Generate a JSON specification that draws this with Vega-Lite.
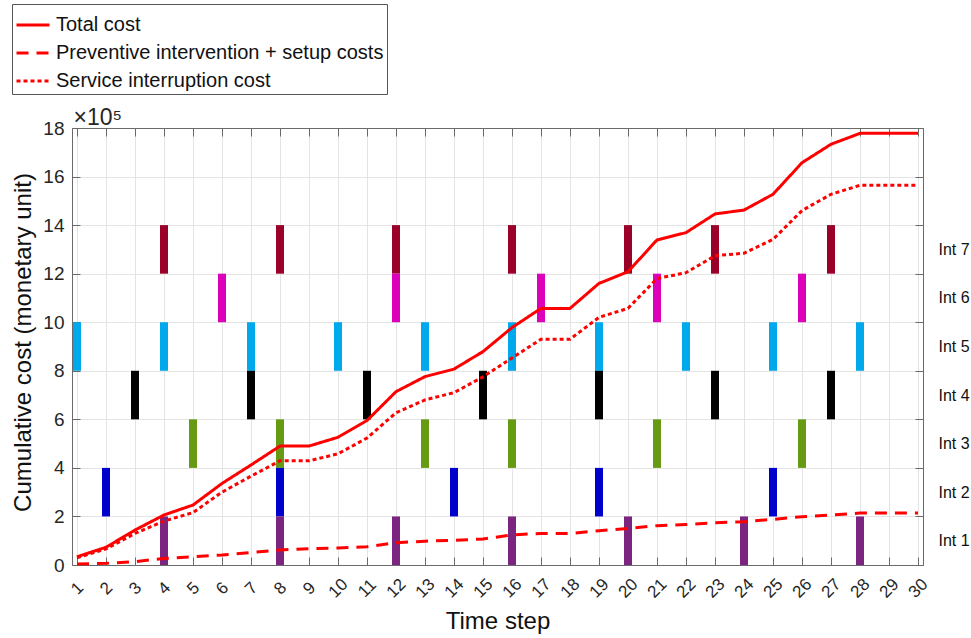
{
  "$schema": "https://vega.github.io/schema/vega-lite/v6.json",
  "width": 851,
  "height": 437,
  "autosize": {"type": "none"},
  "padding": {"left": 72, "top": 128, "right": 48, "bottom": 73},
  "background": "white",
  "config": {
    "font": "Liberation Sans",
    "view": {"stroke": "#6a6a6a"},
    "axis": {
      "domainColor": "#6a6a6a",
      "tickColor": "#6a6a6a",
      "labelColor": "#262626",
      "titleColor": "#111111",
      "titleFontWeight": "normal",
      "gridColor": "#e4e4e4",
      "gridWidth": 1
    }
  },
  "datasets": {
    "ints": [
      {"step": 4, "intervention": "Int 7", "low": 1200000, "high": 1400000},
      {"step": 8, "intervention": "Int 7", "low": 1200000, "high": 1400000},
      {"step": 12, "intervention": "Int 7", "low": 1200000, "high": 1400000},
      {"step": 16, "intervention": "Int 7", "low": 1200000, "high": 1400000},
      {"step": 20, "intervention": "Int 7", "low": 1200000, "high": 1400000},
      {"step": 23, "intervention": "Int 7", "low": 1200000, "high": 1400000},
      {"step": 27, "intervention": "Int 7", "low": 1200000, "high": 1400000},
      {"step": 6, "intervention": "Int 6", "low": 1000000, "high": 1200000},
      {"step": 12, "intervention": "Int 6", "low": 1000000, "high": 1200000},
      {"step": 17, "intervention": "Int 6", "low": 1000000, "high": 1200000},
      {"step": 21, "intervention": "Int 6", "low": 1000000, "high": 1200000},
      {"step": 26, "intervention": "Int 6", "low": 1000000, "high": 1200000},
      {"step": 1, "intervention": "Int 5", "low": 800000, "high": 1000000},
      {"step": 4, "intervention": "Int 5", "low": 800000, "high": 1000000},
      {"step": 7, "intervention": "Int 5", "low": 800000, "high": 1000000},
      {"step": 10, "intervention": "Int 5", "low": 800000, "high": 1000000},
      {"step": 13, "intervention": "Int 5", "low": 800000, "high": 1000000},
      {"step": 16, "intervention": "Int 5", "low": 800000, "high": 1000000},
      {"step": 19, "intervention": "Int 5", "low": 800000, "high": 1000000},
      {"step": 22, "intervention": "Int 5", "low": 800000, "high": 1000000},
      {"step": 25, "intervention": "Int 5", "low": 800000, "high": 1000000},
      {"step": 28, "intervention": "Int 5", "low": 800000, "high": 1000000},
      {"step": 3, "intervention": "Int 4", "low": 600000, "high": 800000},
      {"step": 7, "intervention": "Int 4", "low": 600000, "high": 800000},
      {"step": 11, "intervention": "Int 4", "low": 600000, "high": 800000},
      {"step": 15, "intervention": "Int 4", "low": 600000, "high": 800000},
      {"step": 19, "intervention": "Int 4", "low": 600000, "high": 800000},
      {"step": 23, "intervention": "Int 4", "low": 600000, "high": 800000},
      {"step": 27, "intervention": "Int 4", "low": 600000, "high": 800000},
      {"step": 5, "intervention": "Int 3", "low": 400000, "high": 600000},
      {"step": 8, "intervention": "Int 3", "low": 400000, "high": 600000},
      {"step": 13, "intervention": "Int 3", "low": 400000, "high": 600000},
      {"step": 16, "intervention": "Int 3", "low": 400000, "high": 600000},
      {"step": 21, "intervention": "Int 3", "low": 400000, "high": 600000},
      {"step": 26, "intervention": "Int 3", "low": 400000, "high": 600000},
      {"step": 2, "intervention": "Int 2", "low": 200000, "high": 400000},
      {"step": 8, "intervention": "Int 2", "low": 200000, "high": 400000},
      {"step": 14, "intervention": "Int 2", "low": 200000, "high": 400000},
      {"step": 19, "intervention": "Int 2", "low": 200000, "high": 400000},
      {"step": 25, "intervention": "Int 2", "low": 200000, "high": 400000},
      {"step": 4, "intervention": "Int 1", "low": 0, "high": 200000},
      {"step": 8, "intervention": "Int 1", "low": 0, "high": 200000},
      {"step": 12, "intervention": "Int 1", "low": 0, "high": 200000},
      {"step": 16, "intervention": "Int 1", "low": 0, "high": 200000},
      {"step": 20, "intervention": "Int 1", "low": 0, "high": 200000},
      {"step": 24, "intervention": "Int 1", "low": 0, "high": 200000},
      {"step": 28, "intervention": "Int 1", "low": 0, "high": 200000}
    ],
    "costs": [
      {"step": 1, "series": "Total cost", "value": 34000},
      {"step": 2, "series": "Total cost", "value": 73000},
      {"step": 3, "series": "Total cost", "value": 144000},
      {"step": 4, "series": "Total cost", "value": 206000},
      {"step": 5, "series": "Total cost", "value": 247000},
      {"step": 6, "series": "Total cost", "value": 336000},
      {"step": 7, "series": "Total cost", "value": 412000},
      {"step": 8, "series": "Total cost", "value": 490000},
      {"step": 9, "series": "Total cost", "value": 490000},
      {"step": 10, "series": "Total cost", "value": 526000},
      {"step": 11, "series": "Total cost", "value": 595000},
      {"step": 12, "series": "Total cost", "value": 714000},
      {"step": 13, "series": "Total cost", "value": 776000},
      {"step": 14, "series": "Total cost", "value": 807000},
      {"step": 15, "series": "Total cost", "value": 879000},
      {"step": 16, "series": "Total cost", "value": 978000},
      {"step": 17, "series": "Total cost", "value": 1057000},
      {"step": 18, "series": "Total cost", "value": 1057000},
      {"step": 19, "series": "Total cost", "value": 1160000},
      {"step": 20, "series": "Total cost", "value": 1208000},
      {"step": 21, "series": "Total cost", "value": 1339000},
      {"step": 22, "series": "Total cost", "value": 1369000},
      {"step": 23, "series": "Total cost", "value": 1446000},
      {"step": 24, "series": "Total cost", "value": 1462000},
      {"step": 25, "series": "Total cost", "value": 1527000},
      {"step": 26, "series": "Total cost", "value": 1657000},
      {"step": 27, "series": "Total cost", "value": 1733000},
      {"step": 28, "series": "Total cost", "value": 1778000},
      {"step": 29, "series": "Total cost", "value": 1778000},
      {"step": 30, "series": "Total cost", "value": 1778000},
      {"step": 1, "series": "Preventive intervention + setup costs", "value": 4000},
      {"step": 2, "series": "Preventive intervention + setup costs", "value": 7000},
      {"step": 3, "series": "Preventive intervention + setup costs", "value": 14000},
      {"step": 4, "series": "Preventive intervention + setup costs", "value": 27000},
      {"step": 5, "series": "Preventive intervention + setup costs", "value": 34000},
      {"step": 6, "series": "Preventive intervention + setup costs", "value": 41000},
      {"step": 7, "series": "Preventive intervention + setup costs", "value": 51000},
      {"step": 8, "series": "Preventive intervention + setup costs", "value": 62000},
      {"step": 9, "series": "Preventive intervention + setup costs", "value": 67000},
      {"step": 10, "series": "Preventive intervention + setup costs", "value": 70000},
      {"step": 11, "series": "Preventive intervention + setup costs", "value": 75000},
      {"step": 12, "series": "Preventive intervention + setup costs", "value": 92000},
      {"step": 13, "series": "Preventive intervention + setup costs", "value": 98000},
      {"step": 14, "series": "Preventive intervention + setup costs", "value": 102000},
      {"step": 15, "series": "Preventive intervention + setup costs", "value": 107000},
      {"step": 16, "series": "Preventive intervention + setup costs", "value": 124000},
      {"step": 17, "series": "Preventive intervention + setup costs", "value": 130000},
      {"step": 18, "series": "Preventive intervention + setup costs", "value": 130000},
      {"step": 19, "series": "Preventive intervention + setup costs", "value": 141000},
      {"step": 20, "series": "Preventive intervention + setup costs", "value": 151000},
      {"step": 21, "series": "Preventive intervention + setup costs", "value": 162000},
      {"step": 22, "series": "Preventive intervention + setup costs", "value": 167000},
      {"step": 23, "series": "Preventive intervention + setup costs", "value": 174000},
      {"step": 24, "series": "Preventive intervention + setup costs", "value": 178000},
      {"step": 25, "series": "Preventive intervention + setup costs", "value": 188000},
      {"step": 26, "series": "Preventive intervention + setup costs", "value": 199000},
      {"step": 27, "series": "Preventive intervention + setup costs", "value": 206000},
      {"step": 28, "series": "Preventive intervention + setup costs", "value": 214000},
      {"step": 29, "series": "Preventive intervention + setup costs", "value": 214000},
      {"step": 30, "series": "Preventive intervention + setup costs", "value": 214000},
      {"step": 1, "series": "Service interruption cost", "value": 30000},
      {"step": 2, "series": "Service interruption cost", "value": 66000},
      {"step": 3, "series": "Service interruption cost", "value": 130000},
      {"step": 4, "series": "Service interruption cost", "value": 181000},
      {"step": 5, "series": "Service interruption cost", "value": 216000},
      {"step": 6, "series": "Service interruption cost", "value": 300000},
      {"step": 7, "series": "Service interruption cost", "value": 366000},
      {"step": 8, "series": "Service interruption cost", "value": 429000},
      {"step": 9, "series": "Service interruption cost", "value": 429000},
      {"step": 10, "series": "Service interruption cost", "value": 458000},
      {"step": 11, "series": "Service interruption cost", "value": 523000},
      {"step": 12, "series": "Service interruption cost", "value": 627000},
      {"step": 13, "series": "Service interruption cost", "value": 680000},
      {"step": 14, "series": "Service interruption cost", "value": 710000},
      {"step": 15, "series": "Service interruption cost", "value": 775000},
      {"step": 16, "series": "Service interruption cost", "value": 853000},
      {"step": 17, "series": "Service interruption cost", "value": 930000},
      {"step": 18, "series": "Service interruption cost", "value": 930000},
      {"step": 19, "series": "Service interruption cost", "value": 1020000},
      {"step": 20, "series": "Service interruption cost", "value": 1057000},
      {"step": 21, "series": "Service interruption cost", "value": 1180000},
      {"step": 22, "series": "Service interruption cost", "value": 1204000},
      {"step": 23, "series": "Service interruption cost", "value": 1274000},
      {"step": 24, "series": "Service interruption cost", "value": 1284000},
      {"step": 25, "series": "Service interruption cost", "value": 1341000},
      {"step": 26, "series": "Service interruption cost", "value": 1460000},
      {"step": 27, "series": "Service interruption cost", "value": 1527000},
      {"step": 28, "series": "Service interruption cost", "value": 1564000},
      {"step": 29, "series": "Service interruption cost", "value": 1564000},
      {"step": 30, "series": "Service interruption cost", "value": 1564000}
    ]
  },
  "layer": [
    {
      "data": {"name": "ints"},
      "mark": {"type": "bar", "width": 8},
      "encoding": {
        "x": {
          "field": "step", "type": "quantitative",
          "scale": {"domain": [1, 30], "nice": false, "zero": false},
          "axis": {
            "orient": "top", "values": [1,2,3,4,5,6,7,8,9,10,11,12,13,14,15,16,17,18,19,20,21,22,23,24,25,26,27,28,29,30],
            "labels": false, "grid": false, "tickSize": -8, "domain": true,
            "title": "×10⁵", "titleFontSize": 23, "titleColor": "#262626", "titleX": 1, "titleY": -4,
            "titleAlign": "left", "titleBaseline": "alphabetic", "titleAnchor": "start"
          }
        },
        "y": {
          "field": "low", "type": "quantitative",
          "scale": {"domain": [0, 1800000], "nice": false},
          "axis": {
            "orient": "right", "title": null, "grid": false,
            "values": [0,100000,200000,300000,400000,500000,600000,700000,800000,900000,1000000,1100000,1200000,1300000,1400000,1500000,1600000,1700000,1800000],
            "labelExpr": "(datum.value % 200000 == 100000 && datum.value < 1400000) ? 'Int ' + ((datum.value + 100000) / 200000) : ''",
            "tickSize": -8,
            "tickOpacity": {"condition": {"test": "datum.value % 200000 == 0", "value": 1}, "value": 0},
            "labelPadding": 23, "labelFontSize": 16, "labelAlign": "left", "labelBaseline": "middle",
            "labelFlush": false, "labelOverlap": false, "labelColor": "#111111"
          }
        },
        "y2": {"field": "high"},
        "color": {
          "field": "intervention", "type": "nominal",
          "scale": {
            "domain": ["Int 1", "Int 2", "Int 3", "Int 4", "Int 5", "Int 6", "Int 7"],
            "range": ["#7b2480", "#0000cc", "#669a13", "#000000", "#00a8ec", "#dd00bb", "#9a0028"]
          },
          "legend": null
        }
      }
    },
    {
      "data": {"name": "costs"},
      "mark": {"type": "line", "color": "#ff0000", "strokeWidth": 3},
      "encoding": {
        "x": {
          "field": "step", "type": "quantitative",
          "scale": {"domain": [1, 30], "nice": false, "zero": false},
          "axis": {
            "orient": "bottom", "values": [1,2,3,4,5,6,7,8,9,10,11,12,13,14,15,16,17,18,19,20,21,22,23,24,25,26,27,28,29,30],
            "grid": true, "tickSize": -8, "labelAngle": -45, "labelAlign": "center", "labelBaseline": "middle",
            "labelPadding": 31, "labelFontSize": 17, "labelOverlap": false, "labelFlush": false,
            "title": "Time step", "titleFontSize": 24, "titleY": 63, "titleBaseline": "alphabetic", "titleAlign": "center"
          }
        },
        "y": {
          "field": "value", "type": "quantitative",
          "scale": {"domain": [0, 1800000], "nice": false},
          "axis": {
            "orient": "left", "values": [0,200000,400000,600000,800000,1000000,1200000,1400000,1600000,1800000],
            "labelExpr": "format(datum.value / 100000, 'd')",
            "grid": true, "tickSize": -8, "labelPadding": 16, "labelFontSize": 19, "labelFlush": false, "labelOverlap": false,
            "title": "Cumulative cost (monetary unit)", "titleFontSize": 24, "titleX": -49, "titleY": 214,
            "titleAngle": -90, "titleBaseline": "middle", "titleAlign": "center"
          }
        },
        "strokeDash": {
          "field": "series", "type": "nominal",
          "scale": {
            "domain": ["Total cost", "Preventive intervention + setup costs", "Service interruption cost"],
            "range": [[1, 0], [12, 8], [4, 3]]
          },
          "legend": {
            "title": null, "orient": "none", "legendX": -60, "legendY": -124,
            "symbolType": "stroke", "symbolSize": 1089, "symbolStrokeWidth": 3, "symbolStrokeColor": "#ff0000",
            "labelFontSize": 20, "labelColor": "#111111", "labelLimit": 600, "labelOffset": 5,
            "fillColor": "white", "strokeColor": "#555555", "padding": 3, "rowPadding": -5
          }
        }
      }
    }
  ],
  "resolve": {"axis": {"x": "independent", "y": "independent"}}
}
